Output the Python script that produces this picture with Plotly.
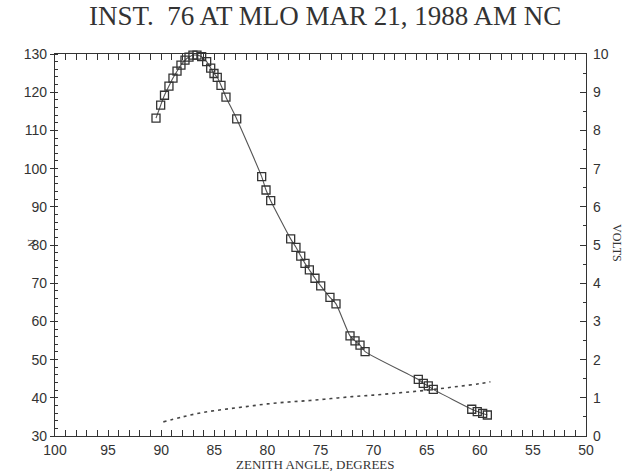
import plotly.graph_objects as go

# N counts (left axis) vs zenith angle
zen_n = [90.49, 90.05, 89.69, 89.27, 88.89, 88.51, 88.14, 87.76, 87.38, 87.01,
         86.63, 86.19, 85.72, 85.34, 85.03, 84.72, 84.37, 83.90, 82.89,
         80.54, 80.13, 79.69,
         77.81, 77.31, 76.86, 76.46, 76.05, 75.52, 74.98, 74.11, 73.54,
         72.22, 71.75, 71.28, 70.80,
         65.79, 65.32, 64.85, 64.38,
         60.76, 60.24, 59.73, 59.29]
n_vals = [113.2, 116.6, 119.2, 121.6, 123.7, 125.5, 127.1, 128.4, 129.2, 129.7,
          129.7, 129.3, 128.0, 126.3, 124.9, 123.9, 121.8, 118.7, 113.0,
          97.9, 94.4, 91.6,
          81.6, 79.4, 77.1, 75.2, 73.5, 71.3, 69.3, 66.3, 64.6,
          56.2, 54.9, 53.8, 52.1,
          44.8, 43.8, 43.1, 42.2,
          37.0, 36.4, 35.9, 35.5]

# Volts (right axis)
zen_v = [89.8, 88, 86, 84, 82, 80, 78, 76, 74, 72, 70, 68, 66, 64, 62, 60, 59.0]
volts = [0.37, 0.50, 0.62, 0.70, 0.77, 0.84, 0.89, 0.93, 0.98, 1.03, 1.07, 1.12,
         1.17, 1.23, 1.30, 1.37, 1.42]

title_text = "INST.  76 AT MLO MAR 21, 1988 AM NC"
x_ticks = [100, 95, 90, 85, 80, 75, 70, 65, 60, 55, 50]
y_ticks = [30, 40, 50, 60, 70, 80, 90, 100, 110, 120, 130]
v_ticks = list(range(0, 11))

ink = "#333333"
tickfont = dict(family="Liberation Sans", size=14, color=ink)

fig = go.Figure()
fig.add_trace(go.Scatter(
    x=zen_n, y=n_vals, mode="lines", line=dict(color="#555555", width=1.1, shape="spline", smoothing=0.6),
    hoverinfo="skip", showlegend=False))
fig.add_trace(go.Scatter(
    x=zen_n, y=n_vals, mode="markers",
    marker=dict(symbol="square-open", size=8, color=ink, line=dict(width=1.3, color=ink)),
    cliponaxis=False, showlegend=False))
fig.add_trace(go.Scatter(
    x=zen_v, y=volts, yaxis="y2", mode="lines",
    line=dict(color="#444444", width=1.6, dash="3px,4px", shape="spline"),
    showlegend=False))

fig.update_layout(
    width=629, height=471,
    margin=dict(l=55, r=43, t=54, b=35),
    paper_bgcolor="white", plot_bgcolor="white",
    title=dict(text=title_text, x=0.517, xanchor="center", y=0.966, yanchor="middle",
               font=dict(family="Liberation Serif", size=27, color=ink)),
    xaxis=dict(range=[100, 50], tickvals=x_ticks, ticks="inside", ticklen=6, tickwidth=1,
               tickcolor=ink, showline=True, linecolor=ink, linewidth=1.3, mirror="allticks",
               showgrid=False, zeroline=False, tickfont=tickfont, ticklabelstandoff=1,
               minor=dict(dtick=1, ticks="inside", ticklen=3, tickcolor=ink, showgrid=False)),
    yaxis=dict(range=[30, 130], tickvals=y_ticks, ticks="outside", ticklen=4, tickwidth=1,
               tickcolor=ink, showline=True, linecolor=ink, linewidth=1.3, mirror=True,
               showgrid=False, zeroline=False, tickfont=tickfont,
               minor=dict(dtick=2, ticks="inside", ticklen=3, tickcolor=ink, showgrid=False)),
    yaxis2=dict(range=[0, 10], tickvals=v_ticks, overlaying="y", side="right",
                ticks="inside", ticklen=6, tickwidth=1, tickcolor=ink,
                showline=False, showgrid=False, zeroline=False, tickfont=tickfont,
                ticklabelstandoff=6,
                minor=dict(dtick=0.5, ticks="inside", ticklen=3, tickcolor=ink, showgrid=False)),
    annotations=[
        dict(text="ZENITH ANGLE, DEGREES", xref="paper", yref="paper", x=0.49, y=0,
             yshift=-28, showarrow=False, yanchor="middle",
             font=dict(family="Liberation Serif", size=13, color=ink)),
        dict(text="N", xref="paper", yref="paper", x=0, xshift=-31, y=0.505,
             showarrow=False, textangle=90, font=dict(family="Liberation Serif", size=11, color=ink)),
        dict(text="VOLTS", xref="paper", yref="paper", x=1, xshift=40, y=0.505,
             showarrow=False, textangle=90, font=dict(family="Liberation Serif", size=12, color=ink)),
    ],
)

fig.write_html("out.html")
